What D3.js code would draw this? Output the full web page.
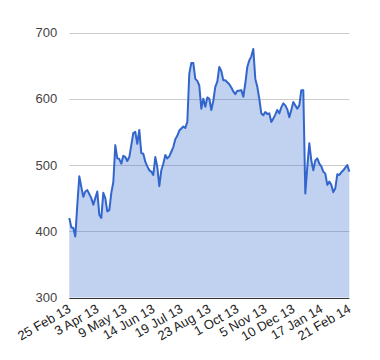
<!DOCTYPE html>
<html>
<head>
<meta charset="utf-8">
<script src="https://cdn.jsdelivr.net/npm/d3@7"></script>
<style>
  html, body { margin: 0; padding: 0; background: #fff; }
  svg { display: block; font-family: Arial, "Liberation Sans", sans-serif; }
</style>
</head>
<body>
<svg id="chart" width="380" height="360"></svg>
<script>
// Tick labels on the category axis (every 14th point)
const tickLabels = ["25 Feb 13", "3 Apr 13", "9 May 13", "14 Jun 13", "19 Jul 13", "23 Aug 13",
                    "1 Oct 13", "5 Nov 13", "10 Dec 13", "17 Jan 14", "21 Feb 14"];
const tickEvery = 14;
// Series values
const values = [
  420, 406, 405, 392, 440, 483, 467, 452, 460, 462,
  456, 450, 440, 450, 460, 425, 420, 458, 450, 430,
  432, 458, 474, 530, 510, 509, 502, 514, 512, 506,
  512, 530, 548, 550, 532, 553, 518, 517, 505, 498,
  492, 490, 485, 512, 497, 468, 492, 502, 515, 510,
  513, 520, 527, 539, 544, 552, 555, 558, 556, 565,
  638, 654, 654, 630, 627, 620, 585, 600, 588, 602,
  600, 583, 597, 618, 626, 648, 642, 628, 628, 625,
  622, 617, 611, 607, 612, 612, 613, 603, 623, 648,
  658, 664, 675, 630, 618, 600, 578, 575, 580, 577,
  578, 565, 570, 576, 583, 578, 587, 593, 590, 584,
  572, 583, 595, 590, 585, 590, 613, 613, 457, 497,
  533, 507, 492, 507, 510, 502, 498, 490, 487, 470,
  475, 470, 459, 465, 486, 485, 489, 492, 496, 500,
  490
];
const yTicks = [300, 400, 500, 600, 700];

const W = 380, H = 360;
const margin = { left: 69.3, right: 30.7, top: 32.5, bottom: 62.5 };
const svg = d3.select("#chart");
const x = d3.scaleLinear().domain([0, values.length - 1]).range([margin.left, W - margin.right]);
const y = d3.scaleLinear().domain([300, 700]).range([H - margin.bottom, margin.top]);

// gridlines
svg.append("g").selectAll("line").data(yTicks.filter(d => d !== 300)).join("line")
  .attr("x1", margin.left).attr("x2", W - margin.right)
  .attr("y1", d => Math.round(y(d)) + 0.5).attr("y2", d => Math.round(y(d)) + 0.5)
  .attr("stroke", "#cccccc").attr("stroke-width", 1);

// area
const area = d3.area().x((d, i) => x(i)).y0(y(300)).y1(d => y(d));
svg.append("path").datum(values).attr("d", area)
  .attr("fill", "#3366cc").attr("fill-opacity", 0.3);

// line
const line = d3.line().x((d, i) => x(i)).y(d => y(d));
svg.append("path").datum(values).attr("d", line)
  .attr("fill", "none").attr("stroke", "#3366cc").attr("stroke-width", 2)
  .attr("stroke-linejoin", "round");

// baseline
svg.append("line")
  .attr("x1", margin.left).attr("x2", W - margin.right)
  .attr("y1", Math.round(y(300)) + 0.5).attr("y2", Math.round(y(300)) + 0.5)
  .attr("stroke", "#333333").attr("stroke-width", 1);

// y axis labels
const yAxis = d3.axisLeft(y).tickValues(yTicks).tickSize(0).tickPadding(12).tickFormat(d3.format("d"));
const gy = svg.append("g").attr("transform", `translate(${margin.left},0)`).call(yAxis);
gy.select(".domain").remove();
gy.selectAll("text").attr("fill", "#444444").style("font-size", "13px")
  .style("font-family", "Arial, 'Liberation Sans', sans-serif");

// x axis labels (rotated)
const tickIdx = tickLabels.map((d, i) => i * tickEvery);
const xAxis = d3.axisBottom(x).tickValues(tickIdx).tickSize(0)
  .tickFormat((d, i) => tickLabels[i]);
const gx = svg.append("g").attr("transform", `translate(0,${y(300)})`).call(xAxis);
gx.select(".domain").remove();
gx.selectAll("text")
  .attr("fill", "#222222").style("font-size", "13px")
  .style("font-family", "Arial, 'Liberation Sans', sans-serif")
  .attr("text-anchor", "end")
  .attr("dy", null).attr("y", null)
  .attr("transform", "translate(2,14) rotate(-30)");
</script>
</body>
</html>
